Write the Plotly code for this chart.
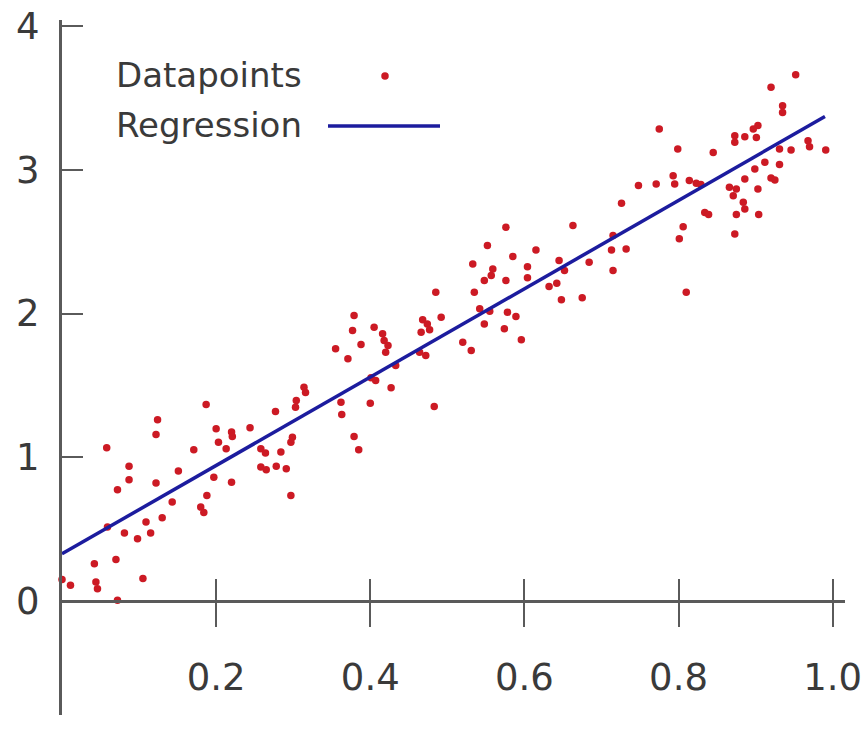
import plotly.graph_objects as go

# ---------------- data ----------------
pts_x = [0.187, 0.124, 0.122, 0.058, 0.171, 0.087, 0.151, 0.087, 0.072, 0.122,
         0.143, 0.180, 0.188, 0.130, 0.109, 0.059, 0.081, 0.115, 0.098, 0.070,
         0.042, 0.000, 0.011, 0.044, 0.046, 0.105, 0.072,
         0.355, 0.371, 0.314, 0.316, 0.304, 0.303, 0.362, 0.363, 0.277, 0.244,
         0.200, 0.220, 0.221, 0.203, 0.299, 0.297, 0.213, 0.258, 0.264, 0.284,
         0.258, 0.265, 0.278, 0.291, 0.197, 0.220, 0.297, 0.184,
         0.485, 0.535, 0.379, 0.377, 0.405, 0.416, 0.418, 0.423, 0.420, 0.388,
         0.468, 0.474, 0.466, 0.477, 0.492, 0.464, 0.472, 0.433, 0.520, 0.531,
         0.542, 0.548, 0.401, 0.407, 0.427, 0.400, 0.483, 0.379, 0.385,
         0.726, 0.576, 0.663, 0.552, 0.585, 0.615, 0.533, 0.559, 0.557, 0.548,
         0.576, 0.604, 0.604, 0.645, 0.652, 0.632, 0.642, 0.684, 0.715, 0.732,
         0.713, 0.715, 0.648, 0.675, 0.555, 0.578, 0.589, 0.574, 0.596,
         0.952, 0.920, 0.935, 0.935, 0.775, 0.903, 0.897, 0.901, 0.886, 0.873,
         0.873, 0.799, 0.845, 0.931, 0.946, 0.968, 0.970, 0.991, 0.912, 0.931,
         0.899, 0.886, 0.920, 0.925, 0.793, 0.795, 0.814, 0.823, 0.829, 0.771,
         0.748, 0.866, 0.875, 0.871, 0.903, 0.884, 0.886, 0.875, 0.904, 0.834,
         0.839, 0.806, 0.801, 0.873, 0.810]
pts_y = [1.368, 1.262, 1.160, 1.067, 1.053, 0.938, 0.905, 0.845, 0.776, 0.822,
         0.690, 0.655, 0.736, 0.581, 0.551, 0.516, 0.474, 0.474, 0.435, 0.290,
         0.262, 0.151, 0.111, 0.134, 0.088, 0.158, 0.007,
         1.755, 1.685, 1.488, 1.451, 1.396, 1.349, 1.384, 1.299, 1.319, 1.206,
         1.199, 1.176, 1.146, 1.106, 1.141, 1.106, 1.060, 1.060, 1.030, 1.037,
         0.933, 0.915, 0.938, 0.922, 0.863, 0.828, 0.736, 0.618,
         2.148, 2.148, 1.986, 1.882, 1.905, 1.859, 1.813, 1.778, 1.731, 1.785,
         1.956, 1.928, 1.870, 1.887, 1.974, 1.731, 1.708, 1.639, 1.801, 1.743,
         2.033, 1.928, 1.553, 1.535, 1.484, 1.377, 1.354, 1.146, 1.053,
         2.766, 2.599, 2.611, 2.472, 2.396, 2.442, 2.345, 2.310, 2.264, 2.229,
         2.229, 2.326, 2.248, 2.368, 2.299, 2.188, 2.210, 2.356, 2.542, 2.449,
         2.442, 2.299, 2.095, 2.109, 2.016, 2.009, 1.979, 1.894, 1.817,
         3.660, 3.572, 3.444, 3.398, 3.283, 3.306, 3.283, 3.224, 3.229, 3.236,
         3.190, 3.144, 3.120, 3.144, 3.137, 3.201, 3.160, 3.137, 3.051, 3.035,
         3.005, 2.935, 2.942, 2.928, 2.958, 2.901, 2.924, 2.905, 2.896, 2.901,
         2.889, 2.877, 2.866, 2.819, 2.866, 2.773, 2.727, 2.688, 2.688, 2.703,
         2.688, 2.604, 2.519, 2.553, 2.148]

reg_intercept = 0.33
reg_slope = 3.07
reg_x = [0.0, 0.99]
reg_y = [reg_intercept + reg_slope * v for v in reg_x]

x_tickvals = [0.2, 0.4, 0.6, 0.8, 1.0]
x_ticktext = ["0.2", "0.4", "0.6", "0.8", "1.0"]
y_tickvals = [0, 1, 2, 3, 4]
y_ticktext = ["0", "1", "2", "3", "4"]
legend_labels = ["Datapoints", "Regression"]

# ---------------- style ----------------
X_RANGE = [0.0, 1.016]
Y_RANGE = [-0.79, 4.04]
AX_COLOR = "#5a5a5a"
FONT = "DejaVu Sans"
PT_COLOR = "#cc1a24"
LN_COLOR = "#1c1c9e"
x_axis_pos = (0 - Y_RANGE[0]) / (Y_RANGE[1] - Y_RANGE[0])

W, H = 866, 729
ML, MR, MT, MB = 62, 21, 20, 14
PW, PH = W - ML - MR, H - MT - MB


def px_x(p):
    return (p - ML) / PW


def px_y(p):
    return (H - MB - p) / PH


fig = go.Figure()
fig.add_trace(go.Scatter(
    x=pts_x, y=pts_y, mode="markers", name=legend_labels[0],
    marker=dict(color=PT_COLOR, size=7.5, line=dict(width=0)),
    showlegend=False, cliponaxis=False))
fig.add_trace(go.Scatter(
    x=reg_x, y=reg_y, mode="lines", name=legend_labels[1],
    xaxis="x2", yaxis="y",
    line=dict(color=LN_COLOR, width=3.5),
    showlegend=False, cliponaxis=False))

common_x = dict(range=X_RANGE, anchor="free", position=x_axis_pos,
                tickvals=x_tickvals, showgrid=False, zeroline=False,
                tickcolor=AX_COLOR, tickwidth=2, automargin=False)

fig.update_layout(
    width=W, height=H,
    margin=dict(l=ML, r=MR, t=MT, b=MB, pad=0),
    paper_bgcolor="white", plot_bgcolor="white",
    font=dict(family=FONT, color="#333333"),
    xaxis=dict(**common_x, ticktext=x_ticktext, ticks="outside", ticklen=24,
               showline=True, linecolor=AX_COLOR, linewidth=3,
               tickfont=dict(size=37, color="#3a3a3a"), ticklabelstandoff=18),
    xaxis2=dict(**common_x, overlaying="x", ticks="inside", ticklen=22,
                showticklabels=False, showline=False),
    yaxis=dict(range=Y_RANGE, tickvals=y_tickvals, ticktext=y_ticktext,
               ticks="inside", ticklen=21, tickcolor=AX_COLOR, tickwidth=2,
               showline=True, linecolor=AX_COLOR, linewidth=3,
               showgrid=False, zeroline=False, automargin=False,
               tickfont=dict(size=37, color="#3a3a3a"), ticklabelstandoff=12),
    showlegend=False,
)

# legend drawn as text + sample marks, text left of the samples as in the reference
leg_y_px = [75, 125]
for lab, ypx in zip(legend_labels, leg_y_px):
    fig.add_annotation(xref="paper", yref="paper", x=px_x(304), y=px_y(ypx),
                       text=lab, showarrow=False, xanchor="right", yanchor="middle",
                       font=dict(family=FONT, size=34, color="#3a3a3a"))
fig.add_shape(type="circle", xref="paper", yref="paper",
              xsizemode="pixel", ysizemode="pixel",
              xanchor=px_x(385), yanchor=px_y(76),
              x0=-3.75, x1=3.75, y0=-3.75, y1=3.75,
              fillcolor=PT_COLOR, line=dict(width=0))
fig.add_shape(type="line", xref="paper", yref="paper",
              x0=px_x(328), x1=px_x(440), y0=px_y(126), y1=px_y(126),
              line=dict(color=LN_COLOR, width=3.5))

fig.write_html("out.html")
